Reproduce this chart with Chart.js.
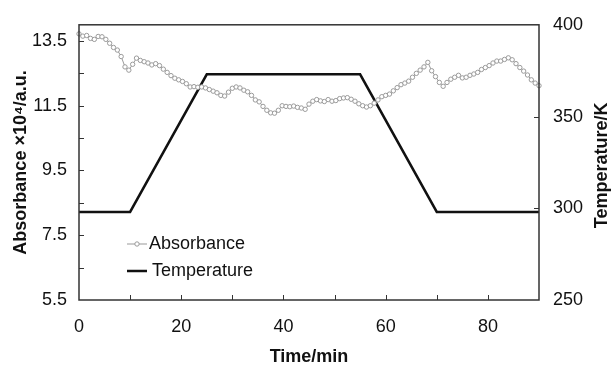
<!DOCTYPE html>
<html>
<head>
<meta charset="utf-8">
<script src="https://cdn.jsdelivr.net/npm/chart.js@4/dist/chart.umd.min.js"></script>
<style>
  body { margin: 0; background: #fff; }
  #chart { display: block; }
</style>
</head>
<body>
<canvas id="chart" width="611" height="366"></canvas>
<script>
// absorbance readings, one every 0.75 min from 0 to 90 min
let absStep = 0.75;
let absValues = [
  13.72, 13.65, 13.67, 13.58, 13.55, 13.64, 13.63, 13.55, 13.43, 13.3, 13.22, 13.02,
  12.7, 12.6, 12.78, 12.97, 12.9, 12.86, 12.82, 12.76, 12.8, 12.74, 12.63, 12.53,
  12.43, 12.35, 12.3, 12.25, 12.18, 12.08, 12.09, 12.07, 12.08, 12.05, 12.0, 11.95,
  11.9, 11.82, 11.8, 11.92, 12.04, 12.08, 12.05, 11.98, 11.93, 11.82, 11.68, 11.62,
  11.48, 11.36, 11.28, 11.27, 11.36, 11.5, 11.48, 11.47, 11.49, 11.45, 11.43, 11.39,
  11.55, 11.64, 11.69, 11.65, 11.63, 11.69, 11.64, 11.66, 11.72, 11.74, 11.75, 11.7,
  11.64, 11.56, 11.5, 11.46, 11.5, 11.58, 11.68, 11.78, 11.82, 11.86, 11.96, 12.06,
  12.15, 12.2, 12.26, 12.38, 12.5, 12.6, 12.7, 12.84, 12.58, 12.4, 12.22, 12.1,
  12.22, 12.32, 12.38, 12.44, 12.36, 12.38, 12.44, 12.48, 12.53, 12.62, 12.68, 12.74,
  12.82, 12.88, 12.88, 12.93, 12.98, 12.92, 12.8, 12.68, 12.57, 12.45, 12.3, 12.2,
  12.12
];
let absTimes = absValues.map((v, i) => i * absStep);

let tempTimes = [0, 10, 25, 55, 70, 90];
let tempValues = [298, 298, 373, 373, 298, 298];

let xTicks = [0, 20, 40, 60, 80];
let xMinorTicks = [10, 20, 30, 40, 50, 60, 70, 80];
let absTicks = [5.5, 7.5, 9.5, 11.5, 13.5];
let absMinorTicks = [6.5, 7.5, 8.5, 9.5, 10.5, 11.5, 12.5, 13.5];
let tempTicks = [250, 300, 350, 400];
let tempMinorTicks = [300, 350];

Chart.defaults.font.family = "'Liberation Sans', Arial, sans-serif";
Chart.defaults.font.size = 18;
Chart.defaults.color = "#111";

let frame = {
  id: "frame",
  afterDraw(chart) {
    let ctx = chart.ctx;
    let a = chart.chartArea;
    let s = chart.scales;
    ctx.save();
    ctx.strokeStyle = "#333";
    ctx.lineWidth = 1.5;
    ctx.strokeRect(a.left, a.top, a.right - a.left, a.bottom - a.top);
    ctx.lineWidth = 1;
    ctx.beginPath();
    absMinorTicks.forEach((v) => {
      let y = Math.round(s.y.getPixelForValue(v)) + 0.5;
      ctx.moveTo(a.left, y);
      ctx.lineTo(a.left + 5, y);
    });
    tempMinorTicks.forEach((v) => {
      let y = Math.round(s.y2.getPixelForValue(v)) + 0.5;
      ctx.moveTo(a.right, y);
      ctx.lineTo(a.right - 5, y);
    });
    xMinorTicks.forEach((v) => {
      let x = Math.round(s.x.getPixelForValue(v)) + 0.5;
      ctx.moveTo(x, a.bottom);
      ctx.lineTo(x, a.bottom - 5);
    });
    ctx.stroke();

    // right axis title, reading bottom to top
    ctx.fillStyle = "#111";
    ctx.font = "bold 18px 'Liberation Sans', Arial, sans-serif";
    ctx.textAlign = "center";
    ctx.textBaseline = "middle";
    ctx.translate(602, (a.top + a.bottom) / 2 + 3);
    ctx.rotate(-Math.PI / 2);
    ctx.fillText("Temperature/K", 0, 0);
    ctx.restore();

    // legend inside the plot
    ctx.save();
    ctx.font = "18px 'Liberation Sans', Arial, sans-serif";
    ctx.textBaseline = "middle";
    ctx.fillStyle = "#111";
    ctx.strokeStyle = "#999";
    ctx.lineWidth = 1;
    ctx.beginPath();
    ctx.moveTo(127, 244);
    ctx.lineTo(147, 244);
    ctx.stroke();
    ctx.beginPath();
    ctx.arc(137, 244, 2.2, 0, Math.PI * 2);
    ctx.fillStyle = "#fff";
    ctx.fill();
    ctx.stroke();
    ctx.fillStyle = "#111";
    ctx.fillText("Absorbance", 149, 244);
    ctx.strokeStyle = "#111";
    ctx.lineWidth = 2.5;
    ctx.beginPath();
    ctx.moveTo(127, 271);
    ctx.lineTo(147, 271);
    ctx.stroke();
    ctx.fillText("Temperature", 152, 271);
    ctx.restore();
  },
};

new Chart(document.getElementById("chart"), {
  type: "line",
  data: {
    datasets: [
      {
        label: "Absorbance",
        data: absTimes.map((t, i) => ({ x: t, y: absValues[i] })),
        yAxisID: "y",
        borderColor: "#9a9a9a",
        borderWidth: 1,
        pointRadius: 2.2,
        pointBorderWidth: 1,
        pointBorderColor: "#9a9a9a",
        pointBackgroundColor: "#fff",
        tension: 0,
        clip: false,
      },
      {
        label: "Temperature",
        data: tempTimes.map((t, i) => ({ x: t, y: tempValues[i] })),
        yAxisID: "y2",
        borderColor: "#111",
        borderWidth: 2.5,
        pointRadius: 0,
        tension: 0,
      },
    ],
  },
  options: {
    responsive: false,
    animation: false,
    layout: { padding: { top: 18, left: 0, right: 0, bottom: 0 } },
    plugins: {
      legend: { display: false },
      tooltip: { enabled: false },
    },
    scales: {
      x: {
        type: "linear",
        min: 0,
        max: 90,
        afterBuildTicks: (scale) => {
          scale.ticks = xTicks.map((v) => ({ value: v }));
        },
        afterFit: (scale) => {
          scale.height = 66;
        },
        grid: { display: false, drawTicks: false },
        border: { display: false },
        ticks: { padding: 16, maxRotation: 0 },
        title: {
          display: true,
          text: "Time/min",
          font: { weight: "bold", size: 18, lineHeight: 1 },
          padding: { top: 0, bottom: 0 },
          color: "#111",
        },
      },
      y: {
        position: "left",
        min: 5.5,
        max: 14,
        afterBuildTicks: (scale) => {
          scale.ticks = absTicks.map((v) => ({ value: v }));
        },
        afterFit: (scale) => {
          scale.width = 79;
        },
        grid: { display: false, drawTicks: false },
        border: { display: false },
        ticks: { padding: 12 },
        title: {
          display: true,
          text: "Absorbance ×10⁴/a.u.",
          font: { weight: "bold", size: 18, lineHeight: 1 },
          padding: { top: 12, bottom: 0 },
          color: "#111",
        },
      },
      y2: {
        position: "right",
        min: 250,
        max: 400,
        afterBuildTicks: (scale) => {
          scale.ticks = tempTicks.map((v) => ({ value: v }));
        },
        afterFit: (scale) => {
          scale.width = 72;
        },
        grid: { display: false, drawTicks: false },
        border: { display: false },
        ticks: { padding: 14 },
      },
    },
  },
  plugins: [frame],
});
</script>
</body>
</html>
